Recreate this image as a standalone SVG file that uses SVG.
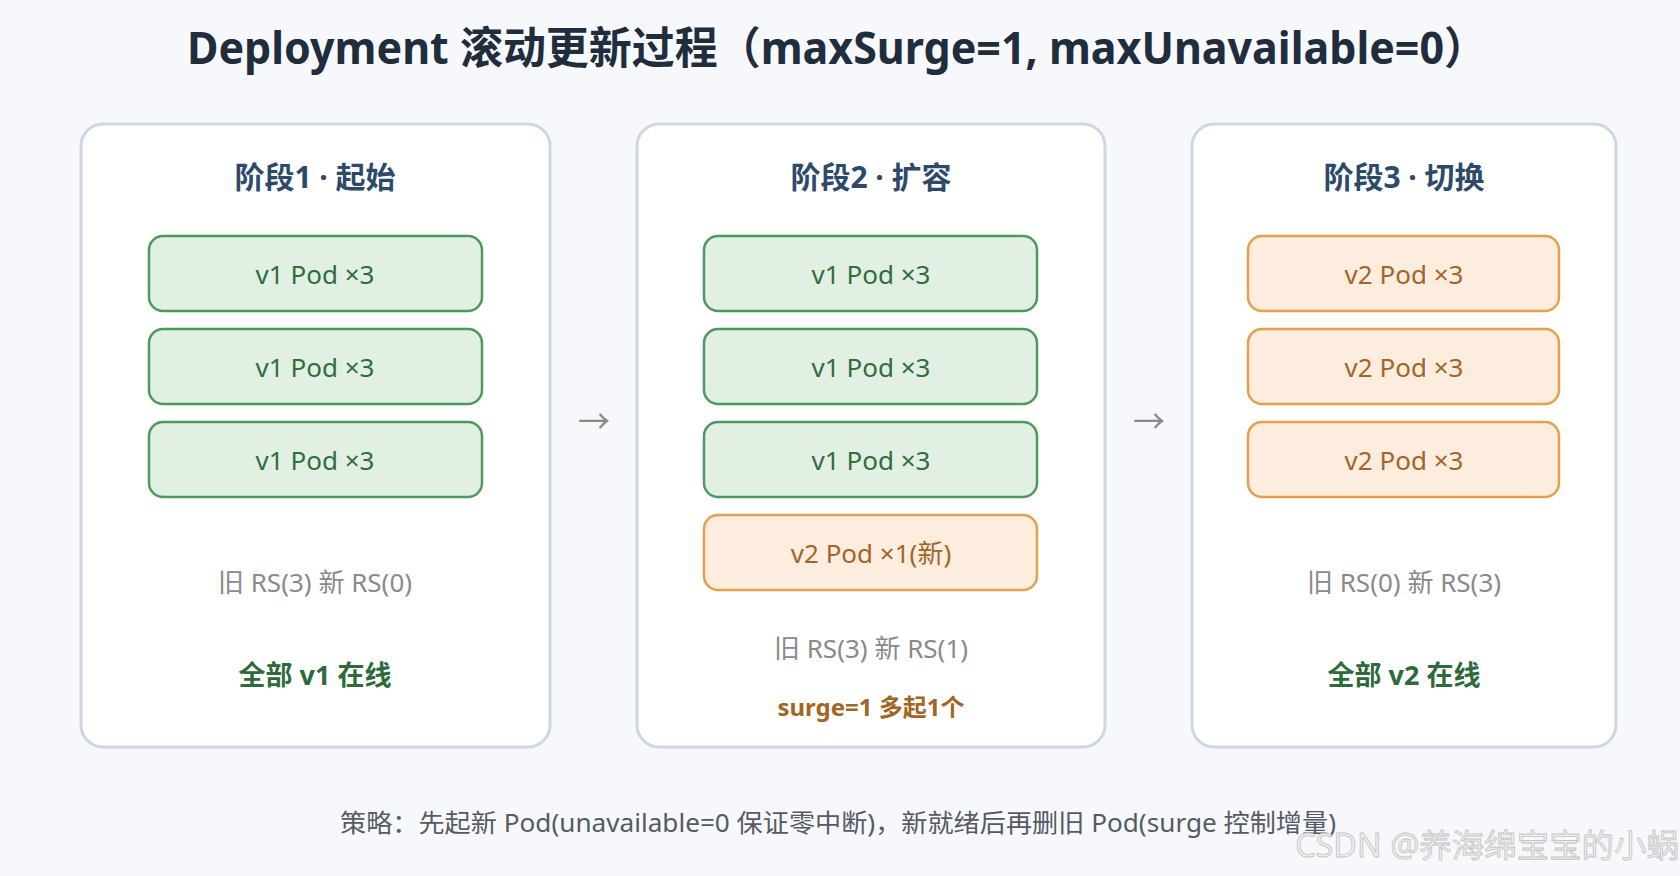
<svg xmlns="http://www.w3.org/2000/svg" width="1680" height="876" viewBox="0 0 1680 876">
<style>
text{font-family:"Noto Sans","Noto Sans CJK SC",sans-serif;text-anchor:middle}
.title{font-size:44px;font-weight:700;fill:#1f2d3d;text-anchor:start}
.panel{fill:#ffffff;stroke:#cbd8e4;stroke-width:3}
.ph{font-size:30px;font-weight:700;fill:#2d4a6b}
.v1{fill:#e2f0e4;stroke:#4e9a5e;stroke-width:2.5}
.v2{fill:#fdeddf;stroke:#e5a04e;stroke-width:2.5}
.t1{font-size:26px;fill:#2e6e3c}
.t2{font-size:26px;fill:#a3652a}
.rs{font-size:26px;fill:#8a8a8a}
.ok{font-size:27px;font-weight:700;fill:#2e6b3a}
.sg{font-size:24px;font-weight:700;fill:#a3651f}
.arr{font-size:32px;fill:#8a8a8a}
.foot{font-size:25px;fill:#555b63}
.wm{font-size:32px;fill:#eeeeee;stroke:#c4c4c4;stroke-width:0.8}
</style>
<rect width="1680" height="876" fill="#f7f8fc"/>
<text class="title" x="187" y="64" textLength="1300" lengthAdjust="spacingAndGlyphs">Deployment 滚动更新过程（maxSurge=1, maxUnavailable=0）</text>

<g id="stage1">
<rect class="panel" x="81" y="124" width="469" height="623" rx="22"/>
<text class="ph" x="315" y="188">阶段1 · 起始</text>
<rect class="v1" x="149" y="236" width="333" height="75" rx="14"/>
<text class="t1" x="315" y="284">v1 Pod ×3</text>
<rect class="v1" x="149" y="329" width="333" height="75" rx="14"/>
<text class="t1" x="315" y="377">v1 Pod ×3</text>
<rect class="v1" x="149" y="422" width="333" height="75" rx="14"/>
<text class="t1" x="315" y="470">v1 Pod ×3</text>
<text class="rs" x="315" y="592">旧 RS(3) 新 RS(0)</text>
<text class="ok" x="315" y="685">全部 v1 在线</text>
</g>

<g id="stage2">
<rect class="panel" x="637" y="124" width="468" height="623" rx="22"/>
<text class="ph" x="871" y="188">阶段2 · 扩容</text>
<rect class="v1" x="704" y="236" width="333" height="75" rx="14"/>
<text class="t1" x="871" y="284">v1 Pod ×3</text>
<rect class="v1" x="704" y="329" width="333" height="75" rx="14"/>
<text class="t1" x="871" y="377">v1 Pod ×3</text>
<rect class="v1" x="704" y="422" width="333" height="75" rx="14"/>
<text class="t1" x="871" y="470">v1 Pod ×3</text>
<rect class="v2" x="704" y="515" width="333" height="75" rx="14"/>
<text class="t2" x="871" y="563">v2 Pod ×1(新)</text>
<text class="rs" x="871" y="658">旧 RS(3) 新 RS(1)</text>
<text class="sg" x="871" y="716">surge=1 多起1个</text>
</g>

<g id="stage3">
<rect class="panel" x="1192" y="124" width="424" height="623" rx="22"/>
<text class="ph" x="1404" y="188">阶段3 · 切换</text>
<rect class="v2" x="1248" y="236" width="311" height="75" rx="14"/>
<text class="t2" x="1404" y="284">v2 Pod ×3</text>
<rect class="v2" x="1248" y="329" width="311" height="75" rx="14"/>
<text class="t2" x="1404" y="377">v2 Pod ×3</text>
<rect class="v2" x="1248" y="422" width="311" height="75" rx="14"/>
<text class="t2" x="1404" y="470">v2 Pod ×3</text>
<text class="rs" x="1404" y="592">旧 RS(0) 新 RS(3)</text>
<text class="ok" x="1404" y="685">全部 v2 在线</text>
</g>

<g id="connectors">
<text class="arr" x="594" y="433">→</text>
<text class="arr" x="1149" y="433">→</text>
</g>

<text class="foot" x="838" y="832" textLength="996" lengthAdjust="spacingAndGlyphs">策略：先起新 Pod(unavailable=0 保证零中断)，新就绪后再删旧 Pod(surge 控制增量)</text>
<text class="wm" x="1487" y="857" textLength="384" lengthAdjust="spacingAndGlyphs">CSDN @养海绵宝宝的小蜗</text>
</svg>
